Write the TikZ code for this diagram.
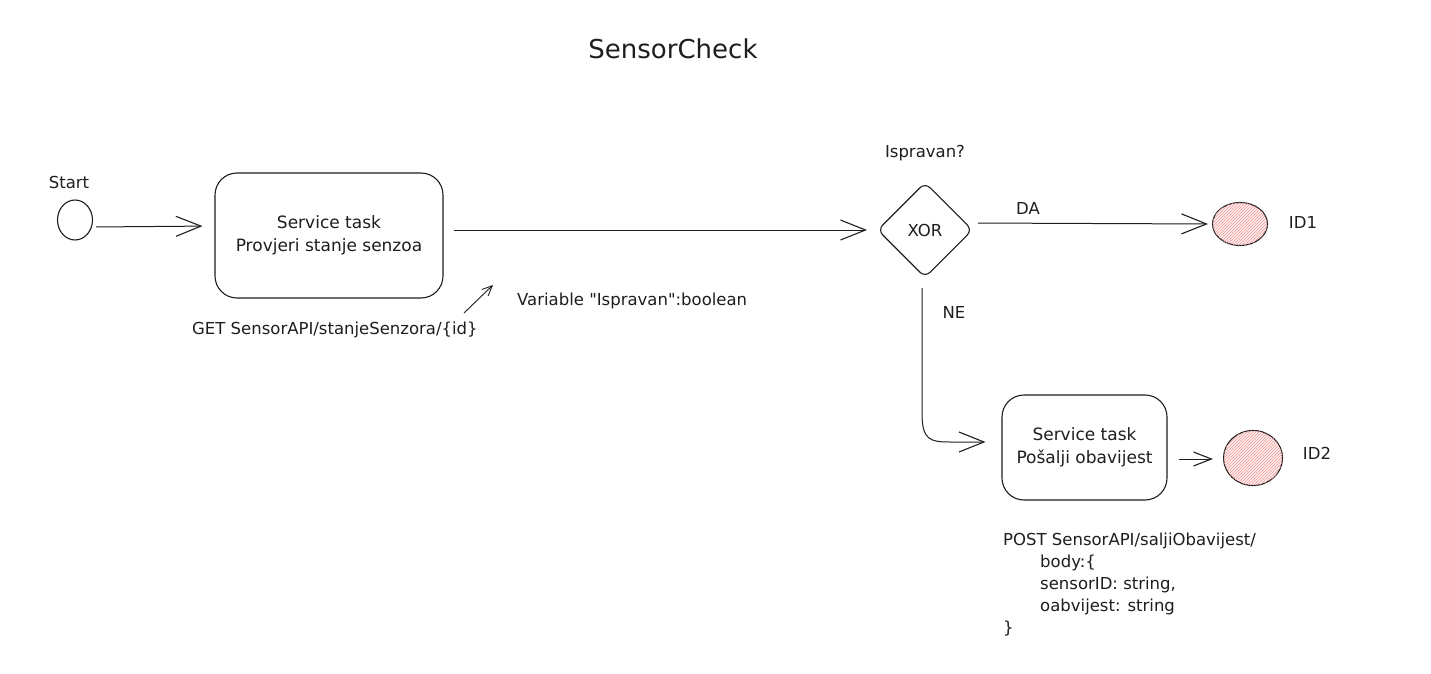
\documentclass[tikz,border=0pt]{standalone}
\usepackage{fontspec}
\setmainfont{DejaVu Sans}[Ligatures=TeXOff]
\usetikzlibrary{shapes.geometric,arrows.meta,patterns}
\definecolor{ink}{HTML}{1E1E1E}
\definecolor{hatch}{HTML}{F29A9A}
\definecolor{endfill}{HTML}{FFEFEF}
\tikzset{
  lbl/.style={font=\fontsize{16.5}{22}\selectfont, text=ink, inner sep=0pt},
  taskbox/.style={draw=ink, line width=1.1pt, rounded corners=22pt, align=center,
    font=\fontsize{17}{23}\selectfont, text=ink},
  flow/.style={draw=ink, line width=1pt, -{Straight Barb[length=25pt,width=20pt,line width=1.1pt]}},
  endev/.style={draw=ink, line width=1.1pt, ellipse, fill=endfill,
    postaction={pattern=north east lines, pattern color=hatch}},
}
\begin{document}
\begin{tikzpicture}[x=1pt,y=-1pt]
\useasboundingbox[fill=white] (0,0) rectangle (1431,674);

\node[font=\fontsize{26}{30}\selectfont, text=ink] (title) at (673,49) {SensorCheck};

% start
\node[draw=ink, line width=1.1pt, ellipse, minimum width=35pt, minimum height=40pt, inner sep=0pt] (start) at (75,220) {};
\node[lbl] (startlbl) at (69,182) {Start};

% task 1
\node[taskbox, minimum width=228pt, minimum height=125pt] (task1) at (329,235.5)
  {Service task\\Provjeri stanje senzoa};
\node[lbl, anchor=west] (get) at (192,330) {GET SensorAPI/stanjeSenzora/\{id\}};

% XOR gateway
\node[draw=ink, line width=1.1pt, diamond, shape aspect=1, minimum width=95pt, minimum height=95pt,
      inner sep=0pt, rounded corners=7pt, lbl] (xor) at (925,230) {XOR};
\node[lbl] (q) at (925,153) {Ispravan?};

% end 1
\node[endev, minimum width=55pt, minimum height=43pt, inner sep=0pt] (end1) at (1240,224) {};
\node[lbl] (id1) at (1303,222) {ID1};

% task 2
\node[taskbox, minimum width=165pt, minimum height=105pt] (task2) at (1084.5,447.5)
  {Service task\\Pošalji obavijest};

% end 2
\node[endev, minimum width=59pt, minimum height=55pt, inner sep=0pt] (end2) at (1253,458) {};
\node[lbl] (id2) at (1317,453) {ID2};

% POST text
\node[lbl, anchor=north west, align=left, font=\fontsize{16.5}{22}\selectfont] (post) at (1003,533)
  {POST SensorAPI/saljiObavijest/\\
   \hspace{37pt}body:\{\\
   \hspace{37pt}sensorID: string,\\
   \hspace{37pt}oabvijest: string\\
   \}};

% variable annotation
\coordinate (va) at (464,313);
\coordinate (vb) at (493,285);
\draw[draw=ink, line width=0.9pt, -{Straight Barb[length=10pt,width=9pt,line width=0.9pt]}] (va) -- (vb);
\node[lbl, anchor=west] (var) at (517,301) {Variable "Ispravan":boolean};

% flows
\draw[flow, shorten <=3pt, shorten >=12pt] (start.east |- 0,227) -- (task1.west |- 0,226);
\draw[flow, shorten <=10pt, shorten >=10pt] (task1.east |- 0,230) -- (xor.west);
\draw[flow, shorten <=5pt, shorten >=4pt] (xor.east |- 0,223) -- (end1.west);
\node[lbl] (da) at (1028,208) {DA};
\draw[flow, shorten >=16pt] (xor.south) ++(-3,10) coordinate (xs) -- (922,413)
  .. controls (922,440) and (930,442) .. (950,442) -- (task2.west |- 0,442);
\node[lbl] (ne) at (954,312) {NE};
\draw[draw=ink, line width=1pt, -{Straight Barb[length=18pt,width=14pt,line width=1.1pt]},
  shorten <=11pt, shorten >=10pt] (task2.east |- 0,459) -- (end2.west |- 0,459);
\end{tikzpicture}
\end{document}
